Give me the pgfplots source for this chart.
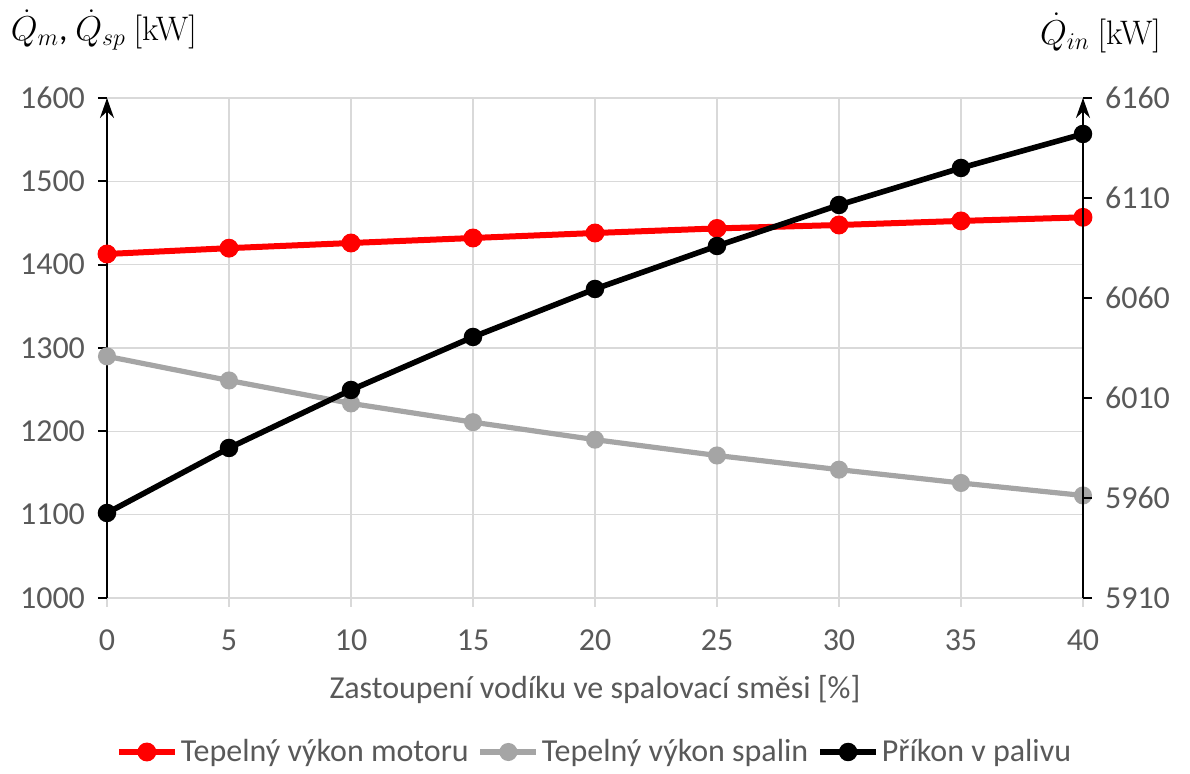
\documentclass[border=0pt]{standalone}
\usepackage{pgfplots}
\pgfplotsset{compat=1.18}
\usepackage{fontspec}
\setmainfont{Carlito}
\newfontfamily\lmr{Latin Modern Roman}
\usetikzlibrary{arrows.meta}
\definecolor{gridgray}{HTML}{D9D9D9}
\definecolor{ticktext}{HTML}{595959}
\definecolor{sergray}{HTML}{A5A5A5}
\definecolor{serred}{HTML}{FF0000}

\pgfplotstableread{
x red gray
0  1412.8 1290.0
5  1419.8 1261.0
10 1426.0 1233.5
15 1432.0 1211.0
20 1438.0 1190.0
25 1443.5 1171.0
30 1447.6 1154.0
35 1452.5 1138.0
40 1456.8 1123.0
}\lefttable

\pgfplotstableread{
x black
0  5952.5
5  5985.0
10 6014.0
15 6040.5
20 6064.5
25 6086.0
30 6106.5
35 6125.0
40 6142.0
}\righttable

\begin{document}
\begin{tikzpicture}[font=\fontsize{16pt}{19pt}\selectfont]
\pgfplotsset{
  every axis/.append style={
    scale only axis, width=488pt, height=250pt,
    xmin=0, xmax=40,
    at={(0pt,0pt)}, anchor=south west,
    tick label style={color=ticktext, font=\fontsize{16pt}{19pt}\selectfont},
    /pgf/number format/assume math mode=true,
    /pgf/number format/1000 sep={},
    scaled ticks=false,
    major tick length=4.5pt,
    tick align=outside,
  },
  every axis y label/.style={},
}
\begin{axis}[
  axis x line*=bottom, axis y line*=left,
  ymin=1000, ymax=1600, ytick={1000,1100,...,1600},
  xtick={0,5,...,40},
  grid=major, grid style={gridgray, line width=0.75pt},
  x axis line style={draw=gridgray, line width=0.75pt, -},
  y axis line style={black, line width=1pt, -{Stealth[length=10pt,width=7pt]}},
  xtick style={draw=gridgray, line width=0.75pt},
  ytick style={draw=black, line width=1pt},
  xticklabel style={yshift=-8pt},
  yticklabel style={xshift=-3pt},
  xlabel={Zastoupení vodíku ve spalovací směsi [\%]},
  xlabel style={color=ticktext, at={(axis description cs:0.5,-0.184)}, anchor=center},
  ylabel={$\dot{Q}_m$, $\dot{Q}_{sp}$ {\lmr [kW]}},
  ylabel style={at={(axis description cs:-0.099,1.136)}, anchor=west, inner sep=0pt, font=\fontsize{17pt}{20pt}\selectfont},
]
\addplot[serred, line width=3pt, mark=*, mark size=3.2pt] table[x=x, y=red] {\lefttable};
\addplot[sergray, line width=2.6pt, mark=*, mark size=3.2pt] table[x=x, y=gray] {\lefttable};
\end{axis}

\begin{axis}[
  axis y line*=right, axis x line=none,
  ymin=5910, ymax=6160, ytick={5910,5960,...,6160},
  y axis line style={black, line width=1pt, -{Stealth[length=10pt,width=7pt]}},
  ytick style={draw=black, line width=1pt},
  yticklabel style={xshift=3pt},
  ylabel={$\dot{Q}_{in}$ {\lmr [kW]}},
  ylabel style={at={(axis description cs:1.018,1.13)}, anchor=center, font=\fontsize{17pt}{20pt}\selectfont},
  legend style={at={(axis description cs:0.5,-0.308)}, anchor=center, draw=none, fill=none,
    legend columns=-1, font=\fontsize{16pt}{19pt}\selectfont, text=ticktext,
    nodes={inner sep=1.5pt},
    /tikz/every even column/.append style={column sep=3pt}},
  legend image code/.code={\draw[mark repeat=2,mark phase=2,#1] plot coordinates {(0pt,0pt) (14pt,0pt) (28pt,0pt)};},
]
\addlegendimage{serred, line width=3pt, mark=*, mark size=3.2pt}
\addlegendentry{Tepelný výkon motoru}
\addlegendimage{sergray, line width=2.6pt, mark=*, mark size=3.2pt}
\addlegendentry{Tepelný výkon spalin}
\addplot[black, line width=2.8pt, mark=*, mark size=3.2pt] table[x=x, y=black] {\righttable};
\addlegendentry{Příkon v palivu}
\end{axis}
\pgfresetboundingbox
\path[use as bounding box] (-53.5pt,-88pt) rectangle (541.5pt,299pt);
\end{tikzpicture}
\end{document}
